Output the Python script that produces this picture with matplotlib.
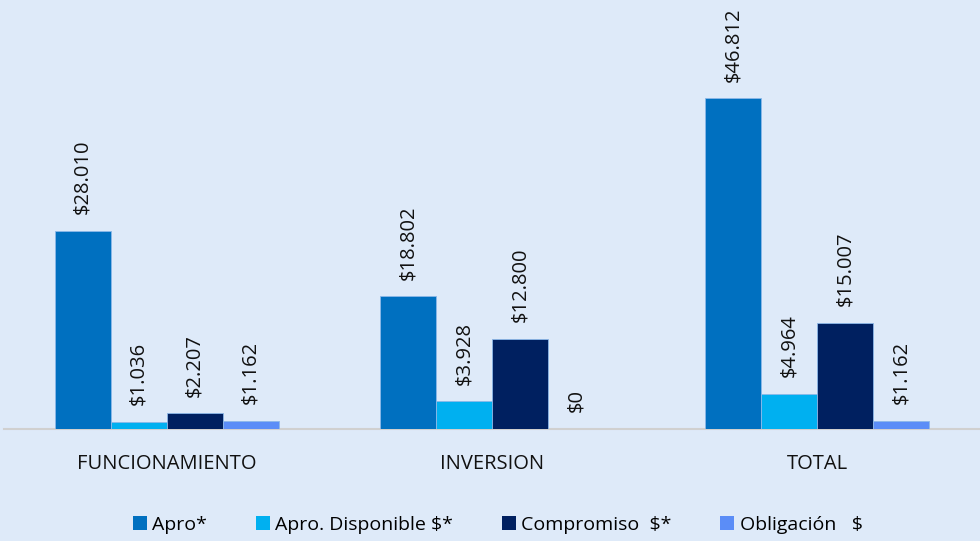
import matplotlib.pyplot as plt
import numpy as np

plt.rcParams['font.family'] = ['Open Sans', 'DejaVu Sans']

categories = ['FUNCIONAMIENTO', 'INVERSION', 'TOTAL']
series_names = ['Apro*', 'Apro. Disponible $*', 'Compromiso  $*', 'Obligación   $']
apro = [28010, 18802, 46812]
apro_disp = [1036, 3928, 4964]
compromiso = [2207, 12800, 15007]
obligacion = [1162, 0, 1162]
values = [apro, apro_disp, compromiso, obligacion]
colors = ['#0070C0', '#00B0F0', '#002060', '#5B8DF7']

bg = '#DEEAF9'
fig = plt.figure(figsize=(9.8, 5.41), dpi=100, facecolor=bg)
ax = fig.add_axes([0.004, 0.207, 0.996, 0.653], facecolor=bg)

x = np.arange(len(categories))
w = 0.172
for i, (vals, c) in enumerate(zip(values, colors)):
    pos = x + (i - 1.5) * w
    ax.bar(pos, vals, width=w, color=c, edgecolor='#8DB8E8', linewidth=0.6,
           label=series_names[i], zorder=3)
    for xi, v in zip(pos, vals):
        ax.annotate(f'${v:,}'.replace(',', '.'), (xi, v), xytext=(0, 12),
                    textcoords='offset points', rotation=90, ha='center', va='bottom',
                    fontsize=14.5, color='#111111', annotation_clip=False)

ax.set_xlim(-0.5, 2.5)
ax.set_ylim(0, 50000)
ax.set_yticks([])
ax.set_xticks(x)
ax.set_xticklabels(categories, fontsize=14.5, color='#111111')
ax.tick_params(axis='x', length=0, pad=18)
for s in ['top', 'right', 'left']:
    ax.spines[s].set_visible(False)
ax.spines['bottom'].set_color('#D0D0D0')
ax.spines['bottom'].set_linewidth(1.5)

leg = fig.legend(loc='center', bbox_to_anchor=(0.508, 0.03), ncol=4, frameon=False,
                 fontsize=14, handlelength=0.7, handleheight=0.7, handletextpad=0.3,
                 columnspacing=2.5)
for h in leg.legend_handles:
    h.set_edgecolor('none')

fig.savefig('out.png', dpi=100, facecolor=bg)
